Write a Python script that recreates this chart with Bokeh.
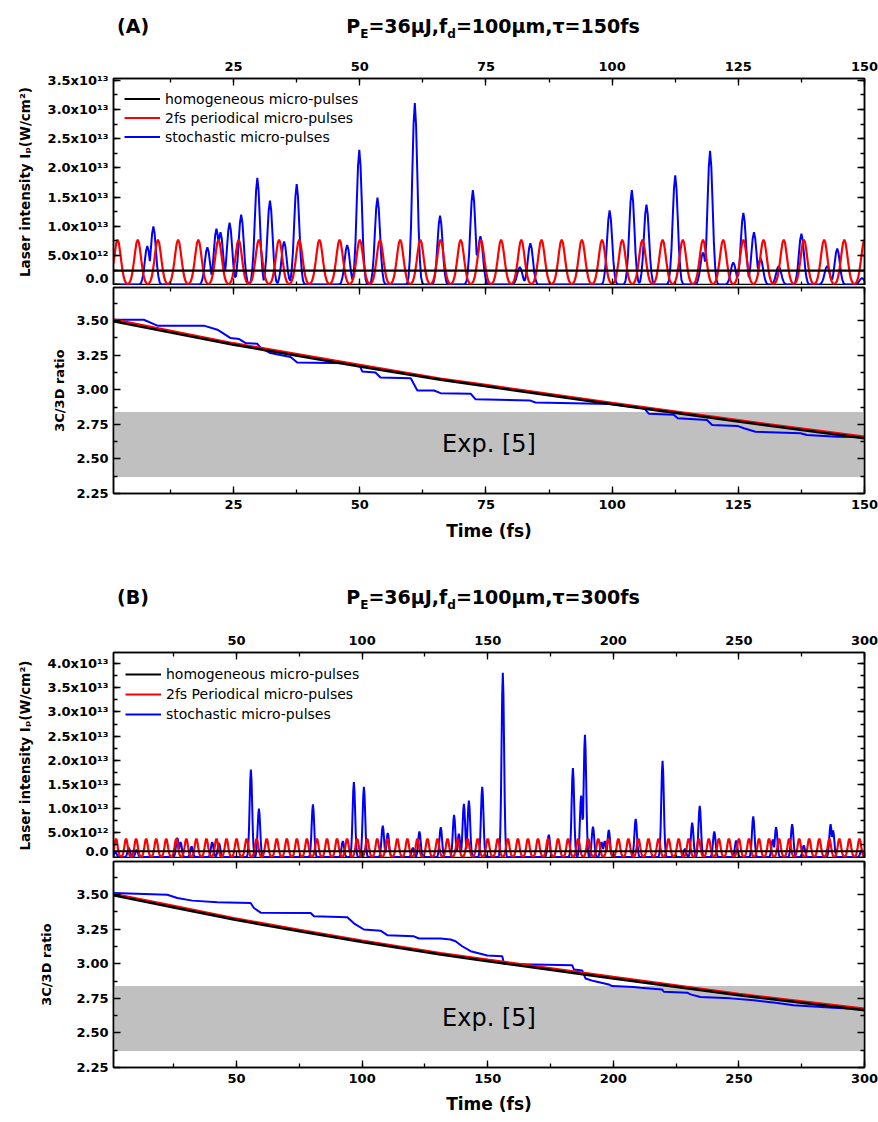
import numpy as np
from bokeh.plotting import figure
from bokeh.models import (Range1d, LinearAxis, SingleIntervalTicker, FixedTicker,
                          CustomJSTickFormatter, NumeralTickFormatter, Legend, LegendItem,
                          BoxAnnotation, Div)
from bokeh.layouts import column
from bokeh.embed import file_html
from bokeh.resources import INLINE
from bokeh.core.properties import value

# ------------------------------------------------------------------ data
legend_labels_A = ["homogeneous micro-pulses", "2fs periodical micro-pulses", "stochastic micro-pulses"]
legend_labels_B = ["homogeneous micro-pulses", "2fs Periodical micro-pulses", "stochastic micro-pulses"]
exp_label = "Exp. [5]"
exp_band = [2.37, 2.84]          # 3C/3D ratio band (experiment)

# pulse profile (offset in fs, relative height)
pulse_offsets = [-2.0, -1.75, -1.5, -1.25, -1.0, -0.75, -0.5, -0.25, 0.0,
                 0.25, 0.5, 0.75, 1.0, 1.25, 1.5, 1.75, 2.0]
periodic_shape = [0.01, 0.03, 0.07, 0.16, 0.31, 0.51, 0.74, 0.93, 1.0,
                  0.93, 0.74, 0.51, 0.31, 0.16, 0.07, 0.03, 0.01]
stochastic_shape = [0.0, 0.0, 0.01, 0.04, 0.14, 0.32, 0.61, 0.88, 1.0,
                    0.88, 0.61, 0.32, 0.14, 0.04, 0.01, 0.0, 0.0]

# ---- Panel A : tau = 150 fs   (intensities in units of 1e13 W/cm^2)
timeA_span = [1.2, 150.0]
homA_level = 0.24
perA_peak = 0.77
perA_centers = [2, 6, 10, 14, 18, 22, 26, 30, 34, 38, 42, 46, 50, 54, 58, 62, 66, 70, 74,
                78, 82, 86, 90, 94, 98, 102, 106, 110, 114, 118, 122, 126, 130, 134, 138,
                142, 146, 150]
stoA_times = [7.9, 9.1, 19.8, 21.6, 22.4, 24.2, 26.5, 29.7, 32.2, 35.0, 37.5, 47.5, 49.9,
              53.5, 60.9, 65.9, 72.4, 73.9, 81.7, 83.8, 99.5, 103.9, 106.8, 112.5, 118.0,
              119.4, 124.0, 126.0, 128.1, 129.4, 133.0, 137.5, 142.6, 144.6, 149.5]
stoA_peaks = [0.66, 0.995, 0.64, 0.96, 0.90, 1.06, 1.20, 1.83, 1.44, 0.74, 1.72, 0.68, 2.31,
              1.49, 3.11, 1.18, 1.62, 0.83, 0.30, 0.71, 1.27, 1.62, 1.37, 1.87, 0.55,
              2.29, 0.38, 1.23, 0.90, 0.45, 0.32, 0.87, 0.32, 0.62, 0.11]

ratioA_hom_t = [1.2, 25, 50, 66, 75, 100, 125, 150]
ratioA_hom = [3.495, 3.326, 3.169, 3.072, 3.025, 2.896, 2.770, 2.649]
ratioA_per_t = [1.2, 25, 50, 66, 75, 100, 125, 150]
ratioA_per = [3.508, 3.336, 3.180, 3.080, 3.034, 2.905, 2.779, 2.660]
ratioA_sto_t = [1.2, 7.2, 9.9, 19.1, 21.8, 24.4, 26.1, 27.4, 29.7, 30.4, 32.3, 35.0, 36.3,
                37.6, 47.5, 50.0, 50.5, 53.1, 54.1, 60.1, 61.4, 64.7, 66.0, 72.0, 72.9, 83.8,
                84.8, 99.7, 103.6, 106.3, 107.3, 112.2, 113.0, 118.8, 119.8, 124.8, 126.1,
                128.4, 137.3, 138.6, 144.6, 150.0]
ratioA_sto = [3.507, 3.507, 3.464, 3.464, 3.435, 3.374, 3.367, 3.338, 3.333, 3.302, 3.266,
              3.246, 3.237, 3.198, 3.193, 3.174, 3.132, 3.125, 3.089, 3.084, 2.995, 2.995,
              2.976, 2.971, 2.932, 2.922, 2.908, 2.898, 2.879, 2.867, 2.826, 2.819, 2.794,
              2.782, 2.746, 2.739, 2.722, 2.697, 2.686, 2.673, 2.661, 2.657]

# ---- Panel B : tau = 300 fs
timeB_span = [1.0, 300.0]
homB_level = 0.12
perB_peak = 0.38
perB_centers = [2, 6, 10, 14, 18, 22, 26, 30, 34, 38, 42, 46, 50, 54, 58, 62, 66, 70, 74,
                78, 82, 86, 90, 94, 98, 102, 106, 110, 114, 118, 122, 126, 130, 134, 138,
                142, 146, 150, 154, 158, 162, 166, 170, 174, 178, 182, 186, 190, 194, 198,
                202, 206, 210, 214, 218, 222, 226, 230, 234, 238, 242, 246, 250, 254, 258,
                262, 266, 270, 274, 278, 282, 286, 290, 294, 298]
stoB_times = [1.8, 7.1, 10.2, 26.4, 27.7, 32.1, 40.3, 43.0, 55.7, 58.9, 80.4, 92.3, 96.7,
              100.7, 108.2, 110.2, 120.2, 122.8, 131.3, 136.6, 138.5, 140.5, 142.5, 147.8,
              156.0, 174.3, 183.9, 187.2, 188.7, 191.9, 195.3, 196.6, 198.2, 208.9, 219.6,
              228.5, 231.4, 234.4, 240.2, 248.9, 255.7, 263.5, 264.8, 271.2, 275.8, 286.5,
              287.5, 298.8]
stoB_peaks = [0.10, 0.19, 0.15, 0.40, 0.31, 0.22, 0.31, 0.29, 1.81, 1.00, 1.09, 0.33, 1.55,
              1.45, 0.65, 0.50, 0.19, 0.53, 0.62, 0.87, 0.48, 1.10, 1.17, 1.45,
              3.81, 0.46, 1.84, 1.27, 2.53, 0.63, 0.31, 0.33, 0.56, 0.79, 1.99,
              0.17, 0.71, 1.06, 0.53, 0.34, 0.84, 0.36, 0.62, 0.68, 0.24, 0.68,
              0.55, 0.14]

ratioB_hom_t = [1.0, 25, 48.9, 75, 100, 131.2, 150, 200, 250, 300]
ratioB_hom = [3.495, 3.408, 3.320, 3.235, 3.157, 3.067, 3.019, 2.894, 2.772, 2.664]
ratioB_per_t = [1.0, 25, 48.9, 75, 100, 131.2, 150, 200, 250, 300]
ratioB_per = [3.506, 3.418, 3.330, 3.245, 3.167, 3.077, 3.029, 2.904, 2.782, 2.675]
ratioB_sto_t = [1.04, 22.4, 26.4, 32.4, 42.3, 55.6, 56.9, 59.6, 79.5, 80.8, 94.1, 96.7,
                100.7, 107.3, 110.0, 120.6, 122.6, 131.2, 135.2, 137.2, 139.8, 143.2, 149.8,
                155.8, 156.4, 183.6, 184.3, 187.6, 188.9, 192.2, 198.2, 199.5, 208.1, 210.8,
                219.4, 220.1, 229.4, 230.7, 234.7, 246.6, 255.9, 264.5, 271.8, 287.7, 300.0]
ratioB_sto = [3.512, 3.500, 3.476, 3.457, 3.445, 3.440, 3.404, 3.370, 3.368, 3.344, 3.337,
              3.293, 3.248, 3.240, 3.207, 3.199, 3.183, 3.183, 3.176, 3.163, 3.127, 3.091,
              3.060, 3.055, 3.000, 2.990, 2.959, 2.952, 2.894, 2.875, 2.851, 2.839, 2.832,
              2.827, 2.815, 2.798, 2.791, 2.779, 2.760, 2.750, 2.736, 2.718, 2.700, 2.682,
              2.671]

ratio_ticks = [2.25, 2.50, 2.75, 3.00, 3.25, 3.50]
ratio_minor = [2.375, 2.625, 2.875, 3.125, 3.375, 3.625]

# ------------------------------------------------------------------ helpers
FONT = "DejaVu Sans"
FW = 751
ML = 113
MR = 14
TOTAL_W = ML + FW + MR

SCI = CustomJSTickFormatter(code="""
if (Math.abs(tick) < 1e3) { return "0.0"; }
const e = Math.floor(Math.log10(Math.abs(tick)) + 1e-9);
const m = tick / Math.pow(10, e);
const sup = {"0":"\u2070","1":"\u00b9","2":"\u00b2","3":"\u00b3","4":"\u2074",
             "5":"\u2075","6":"\u2076","7":"\u2077","8":"\u2078","9":"\u2079","-":"\u207b"};
const es = String(e).split("").map(c => sup[c]).join("");
return m.toFixed(1) + "x10" + es;
""")


def blank():
    return CustomJSTickFormatter(code="return '';")


def pulse_curve(centers, peaks, span, shape):
    off = np.asarray(pulse_offsets, dtype=float)
    shp = np.asarray(shape, dtype=float)
    t_lo, t_hi = span
    ts = np.unique(np.concatenate([np.array(span, dtype=float)] + [off + c for c in centers]))
    ts = ts[(ts >= t_lo) & (ts <= t_hi)]
    vals = np.zeros_like(ts)
    for c, pk in zip(centers, peaks):
        vals = np.maximum(vals, pk * np.interp(ts - c, off, shp, left=0.0, right=0.0))
    return ts, vals * 1e13


def style_axis(ax, labels=True):
    ax.major_tick_in = 7
    ax.major_tick_out = 0
    ax.minor_tick_in = 4
    ax.minor_tick_out = 0
    ax.axis_line_color = "black"
    ax.axis_line_width = 1.5
    ax.major_tick_line_color = "black"
    ax.major_tick_line_width = 1.3
    ax.minor_tick_line_color = "black"
    ax.minor_tick_line_width = 1.3
    ax.major_label_text_font = FONT
    ax.major_label_text_font_style = "bold"
    ax.major_label_text_font_size = "13px"
    ax.major_label_text_color = "black"
    ax.axis_label_text_font = FONT
    ax.axis_label_text_font_style = "bold"
    ax.axis_label_text_color = "black"
    if not labels:
        ax.formatter = blank()
        ax.major_label_standoff = 0
        ax.major_label_text_font_size = "0px"


def base_fig(xr, yr, frame_h, top, bottom, xloc):
    p = figure(frame_width=FW, frame_height=frame_h, x_range=xr, y_range=yr,
               x_axis_location=xloc, min_border_left=ML, min_border_right=MR,
               min_border_top=top, min_border_bottom=bottom, title=None,
               output_backend="svg", toolbar_location=None)
    p.xgrid.visible = False
    p.ygrid.visible = False
    p.outline_line_color = "black"
    p.outline_line_width = 1.5
    p.background_fill_color = "white"
    p.border_fill_color = "white"
    return p


def intensity_fig(xr, xint, yr, yint, hom, per_c, per_pk, sto_t, sto_pk, span, labels,
                  top, frame_h, pad, item_h, ylab_standoff):
    p = base_fig(xr, yr, frame_h, top, 0, "above")
    p.xaxis[0].ticker = SingleIntervalTicker(interval=xint, num_minor_ticks=2)
    p.yaxis[0].ticker = SingleIntervalTicker(interval=yint, num_minor_ticks=2)
    p.yaxis[0].formatter = SCI
    p.add_layout(LinearAxis(ticker=SingleIntervalTicker(interval=xint, num_minor_ticks=2)), "below")
    p.add_layout(LinearAxis(ticker=SingleIntervalTicker(interval=yint, num_minor_ticks=2)), "right")
    style_axis(p.above[0], True)
    style_axis(p.below[0], False)
    style_axis(p.left[0], True)
    style_axis(p.right[0], False)
    p.above[0].major_label_standoff = 8
    p.left[0].major_label_standoff = 5
    p.left[0].axis_label = "Laser intensity I\u209a(W/cm\u00b2)"
    p.left[0].axis_label_text_font_size = "13.5px"
    p.left[0].axis_label_standoff = ylab_standoff

    ts_b, vb = pulse_curve(sto_t, sto_pk, span, stochastic_shape)
    ts_r, vr = pulse_curve(per_c, [per_pk] * len(per_c), span, periodic_shape)
    rb = p.line(ts_b, vb, line_color="#0000FF", line_width=2.0)
    rr = p.line(ts_r, vr, line_color="#FF0000", line_width=2.2)
    rk = p.line(span, [hom * 1e13, hom * 1e13], line_color="black", line_width=2.2)
    leg = Legend(items=[LegendItem(label=labels[0], renderers=[rk]),
                        LegendItem(label=labels[1], renderers=[rr]),
                        LegendItem(label=labels[2], renderers=[rb])],
                 location="top_left", margin=0, padding=pad, spacing=0,
                 glyph_width=36, glyph_height=item_h, label_height=item_h,
                 label_standoff=5, label_text_font=FONT, label_text_font_size="14px",
                 label_text_color="black", background_fill_alpha=0, border_line_alpha=0)
    p.add_layout(leg)
    return p


def ratio_fig(xr, xint, hom_t, hom, per_t, per, sto_t, sto, top, bottom, frame_h,
              ylab_standoff, xlab_standoff):
    p = base_fig(xr, Range1d(2.25, 3.74), frame_h, top, bottom, "below")
    p.xaxis[0].ticker = SingleIntervalTicker(interval=xint, num_minor_ticks=2)
    p.yaxis[0].ticker = FixedTicker(ticks=ratio_ticks, minor_ticks=ratio_minor)
    p.yaxis[0].formatter = NumeralTickFormatter(format="0.00")
    p.add_layout(LinearAxis(ticker=SingleIntervalTicker(interval=xint, num_minor_ticks=2)), "above")
    p.add_layout(LinearAxis(ticker=FixedTicker(ticks=ratio_ticks, minor_ticks=ratio_minor)), "right")
    style_axis(p.below[0], True)
    style_axis(p.above[0], False)
    style_axis(p.left[0], True)
    style_axis(p.right[0], False)
    p.below[0].major_label_standoff = 6
    p.below[0].axis_label = "Time (fs)"
    p.below[0].axis_label_text_font_size = "17px"
    p.below[0].axis_label_standoff = xlab_standoff
    p.left[0].major_label_standoff = 5
    p.left[0].axis_label = "3C/3D ratio"
    p.left[0].axis_label_text_font_size = "13px"
    p.left[0].axis_label_standoff = ylab_standoff

    p.add_layout(BoxAnnotation(bottom=exp_band[0], top=exp_band[1], fill_color="#C0C0C0",
                               fill_alpha=1.0, line_alpha=0, level="underlay"))
    xmid = 0.5 * (xr.start + xr.end)
    ymid = 0.5 * (exp_band[0] + exp_band[1])
    p.text(x=[xmid], y=[ymid], text=[exp_label], text_font=value(FONT),
           text_font_size="24px", text_align="center", text_baseline="middle",
           text_color="black")
    p.line(sto_t, sto, line_color="#0000FF", line_width=2.0)
    p.line(per_t, per, line_color="#FF0000", line_width=2.5)
    p.line(hom_t, hom, line_color="black", line_width=2.5)
    return p


def title_div(letter, tau, height, top):
    html = (
        f'<div style="position:relative;width:{TOTAL_W}px;height:{height}px;'
        f"font-family:'DejaVu Sans';font-weight:bold;font-size:19px;color:black;\">"
        f'<span style="position:absolute;left:117px;top:{top}px;line-height:24px;">({letter})</span>'
        f'<span style="position:absolute;left:493px;top:{top}px;line-height:24px;'
        f'transform:translateX(-50%);white-space:nowrap;">'
        f'P<sub style="font-size:12px;">E</sub>=36\u03bcJ,f<sub style="font-size:12px;">d</sub>'
        f'=100\u03bcm,\u03c4={tau}fs</span></div>'
    )
    return Div(text=html, width=TOTAL_W, height=height, margin=0)


# ------------------------------------------------------------------ build
xrA = Range1d(timeA_span[0], timeA_span[1])
xrB = Range1d(timeB_span[0], timeB_span[1])

divA = title_div("A", 150, 48, 14)
pA1 = intensity_fig(xrA, 25, Range1d(-0.015e13, 3.53e13), 5e12, homA_level, perA_centers,
                    perA_peak, stoA_times, stoA_peaks, timeA_span, legend_labels_A,
                    30, 207, 11, 19, 12)
pA2 = ratio_fig(xrA, 25, ratioA_hom_t, ratioA_hom, ratioA_per_t, ratioA_per,
                ratioA_sto_t, ratioA_sto, 2, 52, 206, 6, 9)

divB = title_div("B", 300, 75, 40)
pB1 = intensity_fig(xrB, 50, Range1d(-0.03e13, 4.23e13), 5e12, homB_level, perB_centers,
                    perB_peak, stoB_times, stoB_peaks, timeB_span, legend_labels_B,
                    32, 206, 12, 20, 12)
pB2 = ratio_fig(xrB, 50, ratioB_hom_t, ratioB_hom, ratioB_per_t, ratioB_per,
                ratioB_sto_t, ratioB_sto, 3, 50, 206, 19, 8)

p = column(divA, pA1, pA2, divB, pB1, pB2, spacing=0)

with open("out.html", "w") as f:
    f.write(file_html(p, INLINE))
